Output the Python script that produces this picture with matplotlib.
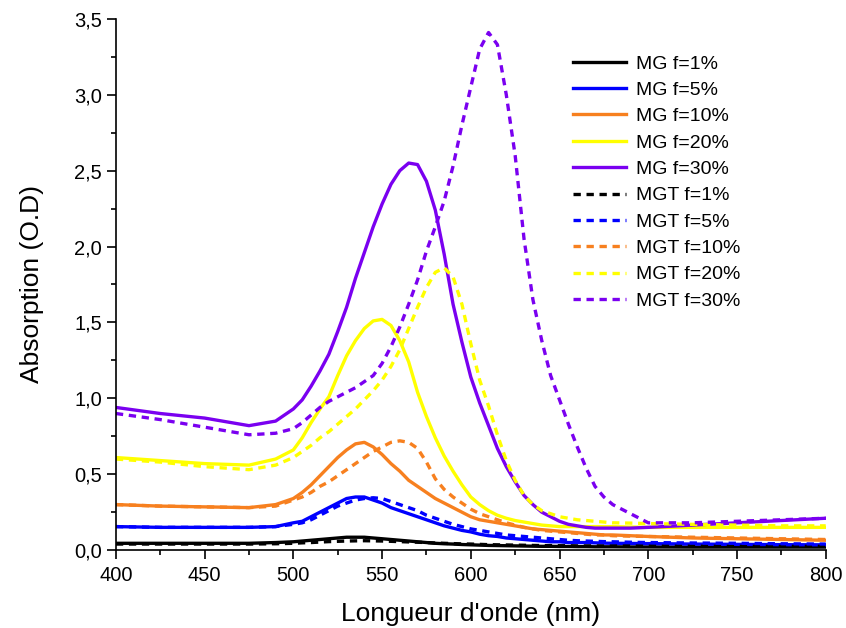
"""UV-vis absorption spectra of MG and MGT samples."""
import matplotlib
matplotlib.use("Agg")
import matplotlib.pyplot as plt
from matplotlib.ticker import FuncFormatter, MultipleLocator

plt.rcParams["font.family"] = ["Liberation Sans", "DejaVu Sans"]

wavelength = [400, 425, 450, 475, 490, 500, 505, 510, 515, 520, 525, 530, 535, 540, 545,
              550, 555, 560, 565, 570, 575, 580, 585, 590, 595, 600, 605, 610, 615, 620,
              625, 630, 635, 640, 645, 650, 655, 660, 665, 670, 675, 680, 690, 700, 725,
              750, 775, 800]

mg_1 = [0.045, 0.045, 0.045, 0.045, 0.05, 0.055, 0.06, 0.065, 0.07, 0.075, 0.08, 0.085, 0.085,
        0.085, 0.08, 0.075, 0.07, 0.065, 0.06, 0.055, 0.05, 0.045, 0.042, 0.04, 0.037, 0.035,
        0.033, 0.031, 0.03, 0.029, 0.028, 0.027, 0.026, 0.025, 0.025, 0.024, 0.024, 0.023,
        0.023, 0.022, 0.022, 0.022, 0.021, 0.021, 0.02, 0.02, 0.02, 0.02]
mg_5 = [0.155, 0.15, 0.15, 0.15, 0.155, 0.18, 0.19, 0.22, 0.25, 0.28, 0.31, 0.34, 0.35, 0.35,
        0.33, 0.31, 0.28, 0.26, 0.24, 0.22, 0.2, 0.18, 0.16, 0.145, 0.13, 0.12, 0.105, 0.095,
        0.09, 0.08, 0.075, 0.07, 0.065, 0.06, 0.055, 0.055, 0.05, 0.05, 0.05, 0.048, 0.046,
        0.045, 0.044, 0.043, 0.04, 0.038, 0.036, 0.035]
mg_10 = [0.3, 0.29, 0.285, 0.28, 0.3, 0.34, 0.38, 0.43, 0.49, 0.55, 0.61, 0.66, 0.7, 0.71,
         0.68, 0.63, 0.57, 0.52, 0.46, 0.42, 0.38, 0.34, 0.31, 0.28, 0.25, 0.22, 0.2, 0.19,
         0.18, 0.17, 0.16, 0.15, 0.14, 0.135, 0.13, 0.125, 0.12, 0.115, 0.11, 0.105, 0.1,
         0.1, 0.095, 0.09, 0.08, 0.075, 0.07, 0.065]
mg_20 = [0.61, 0.59, 0.57, 0.56, 0.6, 0.66, 0.74, 0.84, 0.93, 1.01, 1.15, 1.28, 1.38, 1.46,
         1.51, 1.52, 1.48, 1.38, 1.24, 1.04, 0.88, 0.74, 0.62, 0.52, 0.43, 0.35, 0.3, 0.26,
         0.23, 0.21, 0.195, 0.185, 0.175, 0.165, 0.16, 0.155, 0.155, 0.155, 0.155, 0.155,
         0.155, 0.155, 0.152, 0.15, 0.15, 0.15, 0.15, 0.15]
mg_30 = [0.94, 0.9, 0.87, 0.82, 0.85, 0.93, 0.99, 1.08, 1.18, 1.29, 1.44, 1.6, 1.79, 1.96,
         2.13, 2.28, 2.41, 2.5, 2.55, 2.54, 2.43, 2.24, 1.95, 1.62, 1.37, 1.14, 0.97, 0.82,
         0.67, 0.55, 0.45, 0.36, 0.3, 0.25, 0.22, 0.19, 0.17, 0.16, 0.15, 0.145, 0.145, 0.145,
         0.145, 0.15, 0.165, 0.18, 0.195, 0.21]

mgt_1 = [0.04, 0.04, 0.04, 0.04, 0.042, 0.045, 0.048, 0.05, 0.053, 0.056, 0.058, 0.06, 0.061,
         0.062, 0.061, 0.06, 0.058, 0.056, 0.054, 0.052, 0.05, 0.047, 0.045, 0.043, 0.041,
         0.04, 0.038, 0.036, 0.035, 0.034, 0.033, 0.032, 0.031, 0.03, 0.03, 0.029, 0.029,
         0.028, 0.028, 0.028, 0.027, 0.027, 0.027, 0.026, 0.026, 0.025, 0.025, 0.025]
mgt_5 = [0.155, 0.15, 0.15, 0.15, 0.155, 0.17, 0.18, 0.2, 0.23, 0.26, 0.29, 0.31, 0.33, 0.34,
         0.345, 0.34, 0.32, 0.3, 0.28, 0.26, 0.23, 0.21, 0.19, 0.17, 0.155, 0.14, 0.13, 0.12,
         0.11, 0.1, 0.095, 0.09, 0.085, 0.08, 0.075, 0.07, 0.065, 0.062, 0.06, 0.058, 0.056,
         0.055, 0.052, 0.05, 0.047, 0.045, 0.042, 0.04]
mgt_10 = [0.3, 0.29, 0.285, 0.28, 0.29, 0.33, 0.35, 0.38, 0.42, 0.45, 0.49, 0.53, 0.57, 0.61,
          0.65, 0.68, 0.71, 0.72, 0.71, 0.67, 0.58, 0.47, 0.4, 0.35, 0.31, 0.27, 0.24, 0.22,
          0.2, 0.18, 0.165, 0.15, 0.14, 0.13, 0.125, 0.12, 0.115, 0.11, 0.105, 0.1, 0.1,
          0.095, 0.092, 0.09, 0.085, 0.08, 0.075, 0.07]
mgt_20 = [0.6, 0.58, 0.55, 0.53, 0.56, 0.61, 0.65, 0.69, 0.74, 0.78, 0.83, 0.88, 0.93, 0.99,
          1.05, 1.12, 1.21, 1.32, 1.46, 1.6, 1.73, 1.83, 1.86, 1.8, 1.62, 1.36, 1.12, 0.95,
          0.76, 0.59, 0.46, 0.36, 0.3, 0.26, 0.24, 0.22, 0.21, 0.2, 0.195, 0.19, 0.185,
          0.18, 0.178, 0.175, 0.17, 0.165, 0.16, 0.16]
mgt_30 = [0.9, 0.86, 0.81, 0.76, 0.77, 0.8, 0.84, 0.89, 0.94, 0.98, 1.01, 1.04, 1.07, 1.11,
          1.15, 1.23, 1.34, 1.47, 1.62, 1.78, 1.97, 2.13, 2.3, 2.53, 2.8, 3.05, 3.3, 3.41,
          3.33, 3.0, 2.6, 2.05, 1.65, 1.38, 1.15, 0.99, 0.83, 0.68, 0.54, 0.42, 0.35, 0.3,
          0.24, 0.18, 0.18, 0.19, 0.2, 0.21]

fractions = ["1%", "5%", "10%", "20%", "30%"]
colors = ["#000000", "#0000ff", "#f7801f", "#ffff00", "#7a00f0"]
mg_series = [mg_1, mg_5, mg_10, mg_20, mg_30]
mgt_series = [mgt_1, mgt_5, mgt_10, mgt_20, mgt_30]


def comma(value, _pos):
    return f"{value:.1f}".replace(".", ",")


fig = plt.figure(figsize=(8.46, 6.28), dpi=100)
ax = fig.add_axes([0.137, 0.124, 0.839, 0.846])

for frac, color, values in zip(fractions, colors, mg_series):
    ax.plot(wavelength, values, color=color, lw=2.4, label=f"MG f={frac}")
for frac, color, values in zip(fractions, colors, mgt_series):
    ax.plot(wavelength, values, color=color, lw=2.4, linestyle=(0, (2.2, 1.7)),
            label=f"MGT f={frac}")

ax.set_xlim(400, 800)
ax.set_ylim(0, 3.5)
ax.xaxis.set_major_locator(MultipleLocator(50))
ax.xaxis.set_minor_locator(MultipleLocator(25))
ax.yaxis.set_major_locator(MultipleLocator(0.5))
ax.yaxis.set_minor_locator(MultipleLocator(0.25))
ax.yaxis.set_major_formatter(FuncFormatter(comma))
ax.tick_params(which="major", direction="out", length=6.5, width=1.2, labelsize=14.5)
ax.tick_params(axis="x", which="major", pad=5)
ax.tick_params(which="minor", direction="out", length=3.5, width=1.2)
for side in ("top", "right"):
    ax.spines[side].set_visible(False)
for side in ("left", "bottom"):
    ax.spines[side].set_linewidth(1.2)

ax.set_xlabel("Longueur d'onde (nm)", fontsize=19, labelpad=12)
ax.set_ylabel("Absorption (O.D)", fontsize=19, labelpad=22)

ax.legend(loc="upper left", bbox_to_anchor=(0.644, 0.932), frameon=False, fontsize=14,
          handlelength=2.7, handletextpad=0.55, labelspacing=0.45, borderpad=0,
          borderaxespad=0)

fig.savefig("out.png", dpi=100, facecolor="white")
